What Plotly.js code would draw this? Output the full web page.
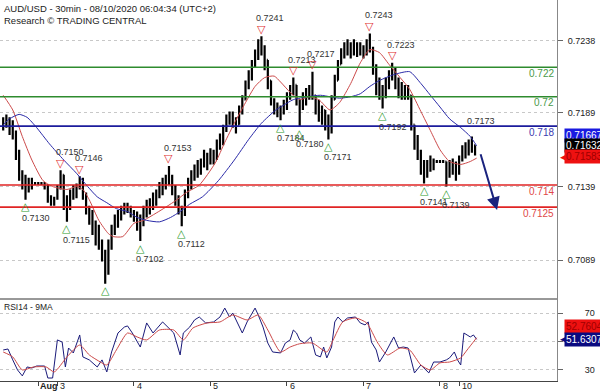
<!DOCTYPE html>
<html><head><meta charset="utf-8">
<script src="https://cdn.plot.ly/plotly-3.0.1.min.js"></script>
<style>html,body{margin:0;padding:0;background:#fff}#chart{width:600px;height:392px}</style>
</head><body><div id="chart"></div>
<script>
// ---- price bars (1 bar per hour index; index 18 = Aug 3 00:00) ----
const barOpen = [0.7180,0.7183,0.7184,0.7181,0.7174,0.7160,0.7147,0.7143,0.7140,0.7141,
0.7141,0.7141,0.7141,0.7141,0.7140,0.7130,0.7130,0.7131,0.7138,0.7147,
0.7126,0.7130,0.7133,0.7137,0.7138,0.7143,0.7133,0.7123,0.7120,0.7113,
0.7106,0.7099,0.7093,0.7082,0.7099,0.7109,0.7116,0.7120,0.7123,0.7125,
0.7124,0.7122,0.7118,0.7116,0.7113,0.7123,0.7126,0.7129,0.7131,0.7133,
0.7140,0.7140,0.7143,0.7145,0.7137,0.7130,0.7123,0.7120,0.7133,0.7140,
0.7147,0.7150,0.7152,0.7154,0.7157,0.7158,0.7160,0.7157,0.7167,0.7172,
0.7177,0.7184,0.7186,0.7184,0.7181,0.7191,0.7198,0.7208,0.7215,0.7222,
0.7228,0.7235,0.7232,0.7225,0.7211,0.7198,0.7192,0.7191,0.7190,0.7194,
0.7201,0.7206,0.7208,0.7198,0.7194,0.7198,0.7201,0.7203,0.7201,0.7192,
0.7188,0.7191,0.7181,0.7177,0.7198,0.7211,0.7222,0.7230,0.7233,0.7235,
0.7232,0.7235,0.7232,0.7234,0.7232,0.7235,0.7233,0.7218,0.7208,0.7203,
0.7201,0.7208,0.7213,0.7218,0.7211,0.7205,0.7203,0.7205,0.7201,0.7181,
0.7171,0.7160,0.7154,0.7150,0.7152,0.7156,0.7156,0.7156,0.7156,0.7156,
0.7150,0.7154,0.7152,0.7149,0.7157,0.7164,0.7165,0.7166,0.7167];
const barHigh = [0.7186,0.7188,0.7186,0.7184,0.7177,0.7164,0.7150,0.7147,0.7145,0.7145,
0.7142,0.7142,0.7142,0.7142,0.7140,0.7133,0.7132,0.7140,0.7150,0.7147,
0.7133,0.7137,0.7140,0.7141,0.7146,0.7145,0.7135,0.7126,0.7123,0.7116,
0.7113,0.7103,0.7096,0.7103,0.7113,0.7120,0.7123,0.7126,0.7128,0.7128,
0.7126,0.7123,0.7122,0.7120,0.7126,0.7130,0.7131,0.7135,0.7137,0.7142,
0.7145,0.7147,0.7153,0.7147,0.7140,0.7133,0.7126,0.7137,0.7145,0.7150,
0.7154,0.7157,0.7158,0.7164,0.7162,0.7165,0.7164,0.7171,0.7175,0.7181,
0.7188,0.7190,0.7190,0.7186,0.7194,0.7201,0.7211,0.7218,0.7225,0.7232,
0.7239,0.7241,0.7235,0.7225,0.7211,0.7199,0.7196,0.7194,0.7198,0.7203,
0.7208,0.7213,0.7208,0.7198,0.7203,0.7206,0.7208,0.7217,0.7201,0.7198,
0.7194,0.7191,0.7188,0.7201,0.7215,0.7225,0.7233,0.7237,0.7239,0.7237,
0.7239,0.7237,0.7237,0.7235,0.7239,0.7243,0.7234,0.7222,0.7213,0.7208,
0.7213,0.7218,0.7223,0.7220,0.7213,0.7210,0.7208,0.7208,0.7201,0.7181,
0.7174,0.7164,0.7157,0.7157,0.7160,0.7158,0.7157,0.7157,0.7157,0.7156,
0.7157,0.7158,0.7156,0.7160,0.7167,0.7169,0.7171,0.7173,0.7167];
const barLow = [0.7177,0.7179,0.7174,0.7171,0.7157,0.7143,0.7137,0.7130,0.7135,0.7137,
0.7140,0.7140,0.7140,0.7137,0.7128,0.7126,0.7126,0.7130,0.7137,0.7123,
0.7115,0.7123,0.7130,0.7131,0.7137,0.7130,0.7120,0.7113,0.7106,0.7099,
0.7096,0.7088,0.7073,0.7079,0.7096,0.7106,0.7111,0.7116,0.7120,0.7121,
0.7118,0.7115,0.7109,0.7102,0.7112,0.7118,0.7120,0.7123,0.7126,0.7131,
0.7133,0.7137,0.7140,0.7133,0.7126,0.7120,0.7112,0.7119,0.7131,0.7137,
0.7143,0.7145,0.7147,0.7152,0.7150,0.7154,0.7154,0.7157,0.7164,0.7167,
0.7176,0.7181,0.7179,0.7175,0.7181,0.7188,0.7198,0.7205,0.7211,0.7220,
0.7225,0.7228,0.7218,0.7205,0.7194,0.7188,0.7186,0.7184,0.7188,0.7191,
0.7198,0.7201,0.7194,0.7180,0.7191,0.7194,0.7198,0.7198,0.7188,0.7183,
0.7181,0.7177,0.7171,0.7175,0.7198,0.7211,0.7222,0.7226,0.7228,0.7226,
0.7228,0.7227,0.7228,0.7226,0.7228,0.7230,0.7215,0.7201,0.7198,0.7192,
0.7199,0.7205,0.7211,0.7205,0.7199,0.7198,0.7198,0.7198,0.7177,0.7164,
0.7157,0.7147,0.7141,0.7145,0.7149,0.7150,0.7155,0.7155,0.7155,0.7139,
0.7145,0.7147,0.7143,0.7147,0.7156,0.7158,0.7160,0.7162,0.7160];
const barClose = [0.7183,0.7184,0.7181,0.7174,0.7160,0.7147,0.7143,0.7140,0.7141,0.7141,
0.7141,0.7141,0.7141,0.7140,0.7130,0.7130,0.7131,0.7138,0.7147,0.7126,
0.7130,0.7133,0.7137,0.7138,0.7143,0.7133,0.7123,0.7120,0.7113,0.7106,
0.7099,0.7093,0.7082,0.7099,0.7109,0.7116,0.7120,0.7123,0.7125,0.7124,
0.7122,0.7118,0.7116,0.7113,0.7123,0.7126,0.7129,0.7131,0.7133,0.7140,
0.7140,0.7143,0.7145,0.7137,0.7130,0.7123,0.7120,0.7133,0.7140,0.7147,
0.7150,0.7152,0.7154,0.7157,0.7158,0.7160,0.7157,0.7167,0.7172,0.7177,
0.7184,0.7186,0.7184,0.7181,0.7191,0.7198,0.7208,0.7215,0.7222,0.7228,
0.7235,0.7232,0.7225,0.7211,0.7198,0.7192,0.7191,0.7190,0.7194,0.7201,
0.7206,0.7208,0.7198,0.7194,0.7198,0.7201,0.7203,0.7201,0.7192,0.7188,
0.7191,0.7181,0.7177,0.7198,0.7211,0.7222,0.7230,0.7233,0.7235,0.7232,
0.7235,0.7232,0.7234,0.7232,0.7235,0.7233,0.7218,0.7208,0.7203,0.7201,
0.7208,0.7213,0.7218,0.7211,0.7205,0.7203,0.7205,0.7201,0.7181,0.7171,
0.7160,0.7154,0.7150,0.7152,0.7156,0.7156,0.7156,0.7156,0.7156,0.7150,
0.7154,0.7152,0.7149,0.7157,0.7164,0.7165,0.7166,0.7167,0.7163];
const barHours = []; for (let i = 1; i <= barClose.length; i++) barHours.push(i);

// ---- moving averages on price ----
const redMaHours = [1,4,7,10,13.5,16.5,21,24,26,28,31,34,35.5,38.5,42,45,49,52,55.5,58.5,62.5,67.5,70.5,73.5,77,80,83,86,88,91,94,97,100,103.5,106.5,110,113,116,119,122,125.5,128.5,132,135,138,141,144.5,147.5,149.5];
const redMaVals = [0.7201,0.7191,0.7173,0.7157,0.7143,0.7139,0.7137,0.7139,0.7137,0.7130,0.7116,0.7107,0.7105,0.7105,0.7114,0.7116,0.7121,0.7125,0.7130,0.7135,0.7140,0.7155,0.7169,0.7182,0.7196,0.7207,0.7213,0.7214,0.7210,0.7203,0.7198,0.7200,0.7198,0.7191,0.7196,0.7209,0.7223,0.7232,0.7230,0.7222,0.7213,0.7205,0.7190,0.7177,0.7164,0.7156,0.7154,0.7156,0.71583];
const blueMaHours = [1,3,6,8.5,11.5,15.5,20,24,27.5,30.5,33.5,36.5,40,43,46,50,53.5,56.5,59.5,63.5,68.5,73.5,78,82,86.5,88,92,96.5,100.5,103.5,106.5,110,113,116,119,123.5,128.5,132,135,138,141,144.5,147.5,149.5];
const blueMaVals = [0.7181,0.7185,0.7188,0.7186,0.7179,0.7168,0.7157,0.7148,0.7139,0.7132,0.7128,0.7124,0.7122,0.7118,0.7116,0.7115,0.7118,0.7122,0.7127,0.7132,0.7143,0.7157,0.7171,0.7182,0.7191,0.7193,0.7198,0.7200,0.7201,0.7200,0.7199,0.7200,0.7202,0.7207,0.7211,0.7215,0.7217,0.7209,0.7201,0.7193,0.7185,0.7179,0.7173,0.71667];

// ---- RSI14 and its 9MA ----
const rsiHours = [1,2.5,4,5.5,7,8.5,10,11.5,14,15,16.5,18,19.5,20.5,21.5,23,25,26,28,30.5,32,33.5,35,37,39,40,41.5,44,46,48,51,52.5,54.5,56.5,57.5,59.5,61,62.5,64.5,67,69,70.5,72,73,74.5,76,77.5,80,81,82.5,84,85.5,88,89.5,91,92,93,94,95.5,97.5,99,100.5,101.5,102.5,104,105,106,107.5,109,111.5,113,114.5,115.5,116.5,118,119,121,122.5,123.5,125,126.5,128,129.5,130,132,133.5,134.5,136,138,140,141,142.5,143.5,144.5,145.5,146.5,147.5,148.5,149.5];
const rsiVals = [44.1,44.8,37.1,30.0,25.8,32.1,31.4,32.8,32.8,24.3,24.3,51.2,49.7,32.1,45.5,42.0,54.7,39.2,37.1,32.1,37.1,28.6,42.7,56.1,60.3,61.1,56.1,46.2,63.2,56.1,63.9,60.3,56.1,40.6,56.1,60.3,65.3,67.4,63.2,63.9,67.4,73.7,67.4,70.2,63.2,56.1,63.9,73.7,68.8,60.3,49.0,42.7,42.0,49.0,51.2,58.2,56.1,51.2,49.0,53.3,40.6,39.2,46.2,38.5,46.2,63.9,67.4,63.9,66.7,67.4,63.2,61.8,63.9,49.7,44.1,35.6,42.7,49.0,53.3,45.5,46.2,45.5,32.1,27.9,33.5,30.0,27.9,35.6,35.6,37.1,38.5,42.7,37.1,33.5,56.1,54.7,53.3,54.7,51.6307];
const rsiMaHours = [1,4,7,10.5,14.5,17,21,25,28,31.5,33.5,36.5,40,43,46,50,54.5,57.5,60.5,65,69,73,77.5,81,84,88,91,94,98,102.5,104.5,107.5,111.5,115,118.5,121.5,125.5,128.5,132,135,138,141,144.5,146.5,149.5];
const rsiMaVals = [42.7,39.2,30.0,32.1,32.1,28.6,39.2,47.6,40.6,35.6,33.5,44.1,56.1,53.3,51.2,58.2,58.2,51.2,59.6,63.2,63.9,68.8,65.3,68.8,58.2,42.7,46.2,48.5,49.0,42.7,51.2,63.9,66.7,63.2,49.0,40.6,45.5,44.1,33.5,30.0,35.0,35.6,38.5,44.1,52.7604];

// ---- swing highs / lows ----
const peakHours = [19,25,53,82,92,98,116,123];
const peakVals = [0.7150,0.7146,0.7153,0.7241,0.7213,0.7217,0.7243,0.7223];
const troughHours = [8,21,44,57,88,94,103,120,133,140];
const troughVals = [0.7130,0.7115,0.7102,0.7112,0.7184,0.7180,0.7171,0.7192,0.7141,0.7139];
const unlabeledTroughHours = [33];
const unlabeledTroughVals = [0.7073];
const lastHighHours = [148];
const lastHighVals = [0.7173];

// ---- key levels ----
const levelVals = [0.7220,0.7200,0.7180,0.7140,0.7125];
const levelText = ['0.722','0.72','0.718','0.714','0.7125'];
const levelColors = ['#2e8b2e','#2e8b2e','#1c1c9c','#e02424','#e02424'];
const levelTextColors = ['#4a9a4a','#4a9a4a','#3a3ab0','#e04848','#e04848'];

// ---- forecast arrow ----
const arrowHours = [150.6, 155.9];
const arrowPrices = [0.7162, 0.7123];

// ---- axes ----
const priceTicks = [0.7089,0.7139,0.7189,0.7238];
const rsiTicks = [30,50,70];
const rsiTickText = ['30','','70'];
const dayTickHours = [12,18,42,66,90,114,138,144];
const dayTickText = ['<b>Aug</b>','3','4','5','6','7','8','10'];
const dayTickShift = [1,2,2,2,2,2,2,2];

// current value boxes
const lastBlueMa = 0.71667, lastClose = 0.71632, lastRedMa = 0.71583;
const lastRsiMa = 52.7604, lastRsi = 51.6307;

const fontFam = 'Liberation Sans, Arial, sans-serif';
const mainDom = [0.2152, 1];
const rsiDom = [0, 0.2152];

const traces = [
  {type:'ohlc', x:barHours, open:barOpen, high:barHigh, low:barLow, close:barClose,
   xaxis:'x', yaxis:'y', increasing:{line:{color:'#000', width:2.2}}, decreasing:{line:{color:'#000', width:2.2}},
   tickwidth:0.3, hoverinfo:'skip'},
  {type:'scatter', mode:'lines', x:redMaHours, y:redMaVals, xaxis:'x', yaxis:'y',
   line:{color:'#cc4a4a', width:1, shape:'spline', smoothing:0.6}, hoverinfo:'skip'},
  {type:'scatter', mode:'lines', x:blueMaHours, y:blueMaVals, xaxis:'x', yaxis:'y',
   line:{color:'#2a2aa8', width:1, shape:'spline', smoothing:0.6}, hoverinfo:'skip'},
  {type:'scatter', mode:'lines', x:rsiHours, y:rsiVals, xaxis:'x', yaxis:'y2',
   line:{color:'#1a1a7a', width:1}, hoverinfo:'skip'},
  {type:'scatter', mode:'lines', x:rsiMaHours, y:rsiMaVals, xaxis:'x', yaxis:'y2',
   line:{color:'#cc4a4a', width:1, shape:'spline', smoothing:0.6}, hoverinfo:'skip'}
];

const shapes = [];
const annotations = [];
levelVals.forEach((v, i) => {
  shapes.push({type:'line', xref:'paper', x0:0, x1:1, yref:'y', y0:v, y1:v, line:{color:levelColors[i], width:1.6}});
  annotations.push({xref:'paper', x:1, xanchor:'right', xshift:-1, yref:'y', y:v, yanchor:'middle', yshift:-6,
    text:levelText[i], showarrow:false, font:{family:fontFam, size:10, color:levelTextColors[i]}});
});
// panel divider
shapes.push({type:'line', xref:'paper', x0:0, x1:1, yref:'paper', y0:mainDom[0], y1:mainDom[0], line:{color:'#333', width:1}});

peakHours.forEach((h, i) => {
  annotations.push({x:h, y:peakVals[i], xref:'x', yref:'y', text:'▽', showarrow:false, yshift:7,
    font:{family:'DejaVu Sans', size:11, color:'#e03030'}});
  annotations.push({x:h, y:peakVals[i], xref:'x', yref:'y', text:peakVals[i].toFixed(4), showarrow:false, yshift:18, xshift:9,
    font:{family:fontFam, size:9, color:'#333'}});
});
troughHours.forEach((h, i) => {
  annotations.push({x:h, y:troughVals[i], xref:'x', yref:'y', text:'△', showarrow:false, yshift:-7,
    font:{family:'DejaVu Sans', size:11, color:'#2e9a2e'}});
  annotations.push({x:h, y:troughVals[i], xref:'x', yref:'y', text:troughVals[i].toFixed(4), showarrow:false, yshift:-18, xshift:10,
    font:{family:fontFam, size:9, color:'#333'}});
});
unlabeledTroughHours.forEach((h, i) => {
  annotations.push({x:h, y:unlabeledTroughVals[i], xref:'x', yref:'y', text:'△', showarrow:false, yshift:-7,
    font:{family:'DejaVu Sans', size:11, color:'#2e9a2e'}});
});
lastHighHours.forEach((h, i) => {
  annotations.push({x:h, y:lastHighVals[i], xref:'x', yref:'y', text:lastHighVals[i].toFixed(4), showarrow:false, yshift:15, xshift:9,
    font:{family:fontFam, size:9, color:'#333'}});
});

// forecast arrow
annotations.push({x:arrowHours[1], y:arrowPrices[1], ax:arrowHours[0], ay:arrowPrices[0], xref:'x', yref:'y', axref:'x', ayref:'y',
  text:'', showarrow:true, arrowhead:2, arrowsize:1.3, arrowwidth:2, arrowcolor:'#1a237e'});

// title
annotations.push({xref:'paper', yref:'paper', x:0, y:1, xanchor:'left', yanchor:'top', xshift:2, yshift:-1, showarrow:false,
  text:'AUD/USD - 30min - 08/10/2020 06:04:34 (UTC+2)', font:{family:fontFam, size:9.5, color:'#222'}});
annotations.push({xref:'paper', yref:'paper', x:0, y:1, xanchor:'left', yanchor:'top', xshift:2, yshift:-13, showarrow:false,
  text:'Research © TRADING CENTRAL', font:{family:fontFam, size:9.5, color:'#222'}});
annotations.push({xref:'paper', yref:'paper', x:0, y:mainDom[0], xanchor:'left', yanchor:'top', xshift:2, yshift:-1, showarrow:false,
  text:'RSI14 - 9MA', font:{family:fontFam, size:8.5, color:'#222'}});

// day labels
dayTickHours.forEach((h, i) => {
  annotations.push({xref:'x', yref:'paper', x:h, y:0, xanchor:'left', yanchor:'top', xshift:dayTickShift[i], yshift:1, showarrow:false,
    text:dayTickText[i], borderpad:0, font:{family:fontFam, size:9, color:'#222'}});
});

// value boxes
function box(yref, v, shift, bg, fg, txt) {
  annotations.push({xref:'paper', x:1, xanchor:'left', xshift:7, yref:yref, y:v, yanchor:'middle', yshift:shift, showarrow:false,
    text:txt, bgcolor:bg, borderpad:1, font:{family:fontFam, size:10, color:fg}});
}
function arrowTip(yref, v, shift, col) {
  annotations.push({xref:'paper', x:1, xanchor:'left', xshift:1, yref:yref, y:v, yanchor:'middle', yshift:shift, showarrow:false,
    text:'◀', font:{family:'DejaVu Sans', size:9, color:col}});
}
box('y', lastBlueMa, 10, '#1a1ae0', '#fff', lastBlueMa.toFixed(5));
box('y', lastClose, 5, '#000', '#fff', lastClose.toFixed(5));
arrowTip('y', lastRedMa, 1.5, '#ee1111');
box('y', lastRedMa, 1.5, '#ee1111', '#a00000', lastRedMa.toFixed(5));
box('y2', lastRsiMa, 11, '#ee1111', '#a00000', lastRsiMa.toFixed(4));
arrowTip('y2', lastRsi, 0, '#0a0a80');
box('y2', lastRsi, 0, '#0a0a80', '#fff', lastRsi.toFixed(4));

const layout = {
  width:600, height:392, margin:{l:0, r:43, t:0, b:11},
  paper_bgcolor:'#fff', plot_bgcolor:'#fff', showlegend:false,
  font:{family:fontFam, size:9.5, color:'#222'},
  xaxis:{range:[0,174.7], anchor:'y2', showgrid:false, zeroline:false, showline:true, linecolor:'#444', linewidth:1,
    ticks:'outside', ticklen:4, tickcolor:'#444', tickvals:dayTickHours, showticklabels:false,
    rangeslider:{visible:false}, fixedrange:true},
  yaxis:{domain:mainDom, range:[0.70626,0.72657], side:'right', anchor:'x', showline:true, linecolor:'#888', linewidth:1,
    ticks:'outside', ticklen:5, tickcolor:'#666', tickvals:priceTicks, ticktext:priceTicks.map(v=>v.toFixed(4)),
    tickfont:{size:9, color:'#222'}, ticklabelstandoff:3,
    showgrid:true, gridcolor:'#c8c8c8', griddash:'dot', zeroline:false, fixedrange:true},
  yaxis2:{domain:rsiDom, range:[22.2,80.1], side:'right', anchor:'x', showline:true, linecolor:'#888', linewidth:1,
    ticks:'outside', ticklen:5, tickcolor:'#666', tickvals:rsiTicks, ticktext:rsiTickText,
    tickfont:{size:9, color:'#222'}, ticklabelstandoff:20,
    showgrid:true, gridcolor:'#c8c8c8', griddash:'dot', zeroline:false, fixedrange:true},
  shapes:shapes, annotations:annotations
};

Plotly.newPlot('chart', traces, layout, {displayModeBar:false, staticPlot:true});
</script></body></html>
